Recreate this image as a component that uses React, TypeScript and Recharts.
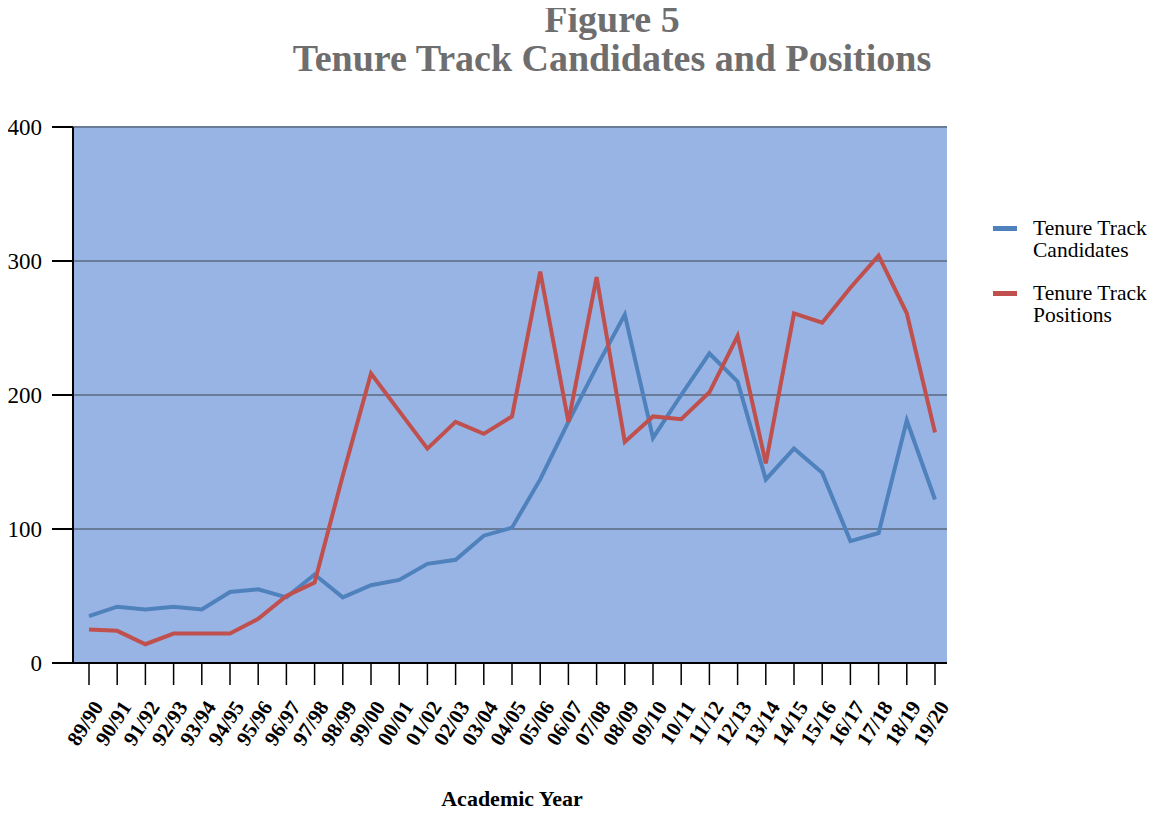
import React from "react";
import { LineChart, Line, XAxis, YAxis, CartesianGrid } from "recharts";

const years = [
  "89/90", "90/91", "91/92", "92/93", "93/94", "94/95", "95/96", "96/97", "97/98", "98/99",
  "99/00", "00/01", "01/02", "02/03", "03/04", "04/05", "05/06", "06/07", "07/08", "08/09",
  "09/10", "10/11", "11/12", "12/13", "13/14", "14/15", "15/16", "16/17", "17/18", "18/19", "19/20",
];
const candidates = [
  35, 42, 40, 42, 40, 53, 55, 49, 66, 49,
  58, 62, 74, 77, 95, 101, 137, 180, 221, 260,
  168, 200, 231, 210, 137, 160, 142, 91, 97, 181, 122,
];
const positions = [
  25, 24, 14, 22, 22, 22, 33, 50, 60, 140,
  216, 188, 160, 180, 171, 184, 292, 180, 288, 165,
  184, 182, 202, 244, 149, 261, 254, 280, 304, 261, 172,
];
const yTicks = [0, 100, 200, 300, 400];
const seriesNames = ["Tenure Track\nCandidates", "Tenure Track\nPositions"];
const seriesColors = ["#4f81bd", "#c0504d"];

const data = years.map((y, i) => ({ year: y, candidates: candidates[i], positions: positions[i] }));

const SERIF = "'Liberation Serif', 'DejaVu Serif', serif";

const XTick = (props: any) => {
  const { x, y, payload } = props;
  const ax = x + 15;
  const ay = y + 20;
  return (
    <text
      x={ax}
      y={ay}
      transform={`rotate(-57, ${ax}, ${ay})`}
      textAnchor="end"
      fontFamily={SERIF}
      fontWeight="bold"
      fontSize={21}
      fill="#000"
    >
      {payload.value}
    </text>
  );
};

export default function App() {
  return (
    <div style={{ position: "relative", width: 1143, height: 798 }}>
      <div
        style={{
          position: "absolute",
          left: 0,
          width: 1208,
          top: -8,
          textAlign: "center",
          fontFamily: SERIF,
          fontWeight: "bold",
          fontSize: 38,
          color: "#6e6e6e",
          zIndex: 2,
        }}
      >
        <div style={{ lineHeight: "38px" }}>Figure 5</div>
        <div style={{ lineHeight: "40px" }}>Tenure Track Candidates and Positions</div>
      </div>
      <LineChart
        width={1143}
        height={798}
        data={data}
        margin={{ top: 119, right: 204, bottom: 43, left: 0 }}
      >
        <CartesianGrid
          vertical={false}
          horizontal={true}
          fill="#98b4e4"
          fillOpacity={1}
          stroke="#6a7b98"
          strokeWidth={2}
          horizontalValues={yTicks}
        />
        <XAxis
          dataKey="year"
          interval={0}
          padding={{ left: 16, right: 12 }}
          tickSize={22}
          tickLine={{ stroke: "#000", strokeWidth: 1.5 }}
          axisLine={{ stroke: "#000", strokeWidth: 2 }}
          tick={<XTick />}
          height={100}
        />
        <YAxis
          domain={[0, 400]}
          ticks={yTicks}
          width={65}
          tickSize={21}
          tickMargin={10}
          tickLine={{ stroke: "#000", strokeWidth: 2 }}
          axisLine={{ stroke: "#000", strokeWidth: 2 }}
          tick={{ fontFamily: SERIF, fontSize: 23, fill: "#000" }}
        />
        <Line
          type="linear"
          dataKey="candidates"
          name={seriesNames[0]}
          stroke={seriesColors[0]}
          strokeWidth={4}
          dot={false}
          isAnimationActive={false}
        />
        <Line
          type="linear"
          dataKey="positions"
          name={seriesNames[1]}
          stroke={seriesColors[1]}
          strokeWidth={4}
          dot={false}
          isAnimationActive={false}
        />
      </LineChart>
      <div
        style={{
          position: "absolute",
          left: 985,
          top: 209,
          fontFamily: SERIF,
          fontSize: 21.5,
          lineHeight: "22px",
          color: "#000",
        }}
      >
        {seriesNames.map((name, i) => (
          <div key={i} style={{ display: "flex", alignItems: "flex-start", marginBottom: i === 0 ? 21 : 0 }}>
            <div style={{ width: 24, height: 5, background: seriesColors[i], marginTop: 9, marginRight: 16 }} />
            <div>
              {name.split("\n").map((l, j) => (
                <div key={j}>{l}</div>
              ))}
            </div>
          </div>
        ))}
      </div>
      <div
        style={{
          position: "absolute",
          left: 0,
          width: 1008,
          top: 778,
          textAlign: "center",
          fontFamily: SERIF,
          fontWeight: "bold",
          fontSize: 22,
          color: "#000",
        }}
      >
        Academic Year
      </div>
    </div>
  );
}
